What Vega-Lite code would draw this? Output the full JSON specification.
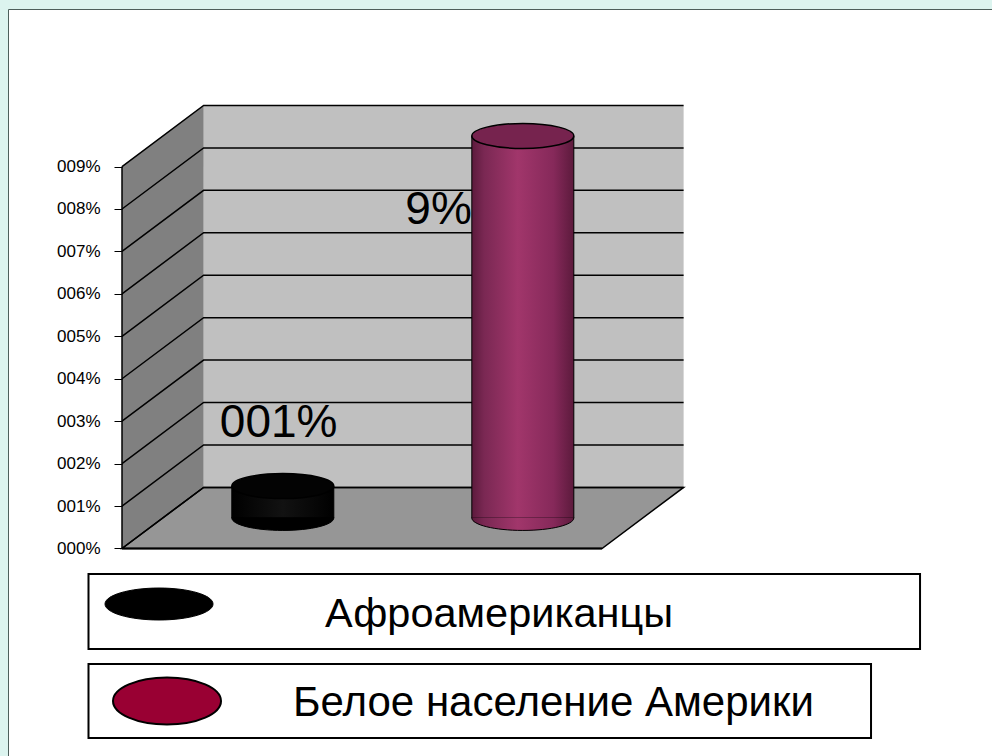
{
  "$schema": "https://vega.github.io/schema/vega-lite/v6.json",
  "width": 985,
  "height": 748,
  "autosize": {"type": "none"},
  "padding": {"left": 8, "top": 9, "right": 0, "bottom": 0},
  "background": "#dcf4ef",
  "config": {"font": "Liberation Sans", "view": {"fill": "white", "stroke": "#4d5f5b", "strokeWidth": 1}, "scale": {"continuousPadding": 0}},
  "datasets": {
    "series": [
      {"group": "Афроамериканцы", "rank": 1, "value": 0.75, "label": "001%"},
      {"group": "Белое население Америки", "rank": 2, "value": 9, "label": "9%"}
    ],
    "ticks": [{"tick": 0}, {"tick": 1}, {"tick": 2}, {"tick": 3}, {"tick": 4}, {"tick": 5}, {"tick": 6}, {"tick": 7}, {"tick": 8}, {"tick": 9}]
  },
  "data": {"name": "series"},
  "resolve": {"scale": {"y": "independent"}},
  "layer": [
    {
      "layer": [
        {
          "data": {"values": [{}]},
          "mark": {"type": "rect", "fill": "#c0c0c0"},
          "encoding": {
            "x": {"datum": 0.67, "type": "quantitative", "scale": {"domain": [-0.145, 3.959], "nice": false, "zero": false, "padding": 0}, "axis": null},
            "x2": {"datum": 2.67},
            "y": {"datum": 1.44, "type": "quantitative", "scale": {"domain": [-4.913, 12.712], "nice": false, "zero": false}, "axis": null},
            "y2": {"datum": 10.44}
          }
        },
        {
          "data": {"values": [{}]},
          "mark": {"type": "point", "shape": "M0,0L0,-382L81.6,-443.1L81.6,-61.1Z", "size": 4, "filled": true, "fill": "#808080", "strokeWidth": 0, "opacity": 1},
          "encoding": {
            "x": {"datum": 0.33, "type": "quantitative", "scale": {"domain": [-0.145, 3.959], "nice": false, "zero": false, "padding": 0}, "axis": null},
            "y": {"datum": 0, "type": "quantitative", "scale": {"domain": [-4.913, 12.712], "nice": false, "zero": false}, "axis": null}
          }
        },
        {
          "data": {"values": [{}]},
          "mark": {"type": "point", "shape": "M0,0L480,0L561.6,-61.1L81.6,-61.1Z", "size": 4, "filled": true, "fill": "#969696", "stroke": "black", "strokeWidth": 1.5, "opacity": 1},
          "encoding": {
            "x": {"datum": 0.33, "type": "quantitative", "scale": {"domain": [-0.145, 3.959], "nice": false, "zero": false, "padding": 0}, "axis": null},
            "y": {"datum": 0, "type": "quantitative", "scale": {"domain": [-4.913, 12.712], "nice": false, "zero": false}, "axis": null}
          }
        }
      ]
    },
    {
      "data": {"name": "ticks"},
      "mark": {"type": "point", "shape": "M0,0L81.6,-61.1L561.6,-61.1", "size": 4, "filled": false, "color": "black", "strokeWidth": 1.5, "opacity": 1},
      "encoding": {
        "x": {"datum": 0.33, "type": "quantitative", "scale": {"domain": [-0.145, 3.959], "nice": false, "zero": false, "padding": 0}, "axis": null},
        "y": {
          "field": "tick", "type": "quantitative",
          "scale": {"domain": [-4.913, 12.712], "nice": false, "zero": false},
          "axis": {
            "values": [0, 1, 2, 3, 4, 5, 6, 7, 8, 9],
            "labelExpr": "'00' + datum.value + '%'",
            "orient": "left",
            "offset": -114, "domain": false, "grid": false,
            "ticks": true, "tickSize": 8, "tickColor": "black", "tickWidth": 1,
            "labelFont": "Liberation Sans Narrow, Liberation Sans, Arial", "labelFontSize": 17, "labelColor": "black",
            "labelPadding": 14, "labelOverlap": false, "labelFlush": false, "title": null,
            "zindex": 1
          }
        }
      }
    },
    {
      "layer": [
        {
          "data": {"values": [{}]},
          "mark": {"type": "rule", "color": "black", "strokeWidth": 1.5},
          "encoding": {
            "x": {"datum": 0.33, "type": "quantitative", "scale": {"domain": [-0.145, 3.959], "nice": false, "zero": false, "padding": 0}, "axis": null},
            "y": {"datum": 0, "type": "quantitative", "scale": {"domain": [-4.913, 12.712], "nice": false, "zero": false}, "axis": null},
            "y2": {"datum": 9}
          }
        },
        {
          "data": {"values": [{}]},
          "mark": {"type": "rule", "color": "black", "strokeWidth": 2},
          "encoding": {
            "x": {"datum": 0.33, "type": "quantitative", "scale": {"domain": [-0.145, 3.959], "nice": false, "zero": false, "padding": 0}, "axis": null},
            "x2": {"datum": 2.33},
            "y": {"datum": 0, "type": "quantitative", "scale": {"domain": [-4.913, 12.712], "nice": false, "zero": false}, "axis": null}
          }
        },
        {
          "data": {"values": [{}]},
          "mark": {"type": "rect", "fill": "white", "stroke": "black", "strokeWidth": 2},
          "encoding": {
            "x": {"datum": 0.1904, "type": "quantitative", "scale": {"domain": [-0.145, 3.959], "nice": false, "zero": false, "padding": 0}, "axis": null},
            "x2": {"datum": 3.655},
            "y": {"datum": -0.601, "type": "quantitative", "scale": {"domain": [-4.913, 12.712], "nice": false, "zero": false}, "axis": null},
            "y2": {"datum": -2.368}
          }
        },
        {
          "data": {"values": [{}]},
          "mark": {"type": "rect", "fill": "white", "stroke": "black", "strokeWidth": 2},
          "encoding": {
            "x": {"datum": 0.1904, "type": "quantitative", "scale": {"domain": [-0.145, 3.959], "nice": false, "zero": false, "padding": 0}, "axis": null},
            "x2": {"datum": 3.4508},
            "y": {"datum": -2.721, "type": "quantitative", "scale": {"domain": [-4.913, 12.712], "nice": false, "zero": false}, "axis": null},
            "y2": {"datum": -4.465}
          }
        },
        {
          "transform": [{"filter": "datum.group == 'Афроамериканцы'"}],
          "mark": {"type": "point", "shape": "M-1,0C-1,-0.1635,-0.5523,-0.296,0,-0.296C0.5523,-0.296,1,-0.1635,1,0C1,0.1635,0.5523,0.296,0,0.296C-0.5523,0.296,-1,0.1635,-1,0Z", "size": 11664, "filled": true, "fill": "black", "stroke": "black", "strokeWidth": 1, "opacity": 1},
          "encoding": {
            "x": {"datum": 0.4842, "type": "quantitative", "scale": {"domain": [-0.145, 3.959], "nice": false, "zero": false, "padding": 0}, "axis": null},
            "y": {"datum": -1.308, "type": "quantitative", "scale": {"domain": [-4.913, 12.712], "nice": false, "zero": false}, "axis": null}
          }
        },
        {
          "transform": [{"filter": "datum.group == 'Белое население Америки'"}],
          "mark": {"type": "point", "shape": "M-1,0C-1,-0.2403,-0.5523,-0.435,0,-0.435C0.5523,-0.435,1,-0.2403,1,0C1,0.2403,0.5523,0.435,0,0.435C-0.5523,0.435,-1,0.2403,-1,0Z", "size": 11664, "filled": true, "fill": "#990033", "stroke": "black", "strokeWidth": 2, "opacity": 1},
          "encoding": {
            "x": {"datum": 0.5175, "type": "quantitative", "scale": {"domain": [-0.145, 3.959], "nice": false, "zero": false, "padding": 0}, "axis": null},
            "y": {"datum": -3.593, "type": "quantitative", "scale": {"domain": [-4.913, 12.712], "nice": false, "zero": false}, "axis": null}
          }
        },
        {
          "transform": [{"filter": "datum.group == 'Афроамериканцы'"}],
          "mark": {"type": "text", "align": "left", "baseline": "alphabetic", "fontSize": 41.5, "font": "Liberation Sans", "color": "black"},
          "encoding": {
            "x": {"datum": 1.1758, "type": "quantitative", "scale": {"domain": [-0.145, 3.959], "nice": false, "zero": false, "padding": 0}, "axis": null},
            "y": {"datum": -1.85, "type": "quantitative", "scale": {"domain": [-4.913, 12.712], "nice": false, "zero": false}, "axis": null},
            "text": {"field": "group"}
          }
        },
        {
          "transform": [{"filter": "datum.group == 'Белое население Америки'"}],
          "mark": {"type": "text", "align": "left", "baseline": "alphabetic", "fontSize": 42, "font": "Liberation Sans", "color": "black"},
          "encoding": {
            "x": {"datum": 1.0425, "type": "quantitative", "scale": {"domain": [-0.145, 3.959], "nice": false, "zero": false, "padding": 0}, "axis": null},
            "y": {"datum": -3.947, "type": "quantitative", "scale": {"domain": [-4.913, 12.712], "nice": false, "zero": false}, "axis": null},
            "text": {"field": "group"}
          }
        }
      ]
    },
    {
      "layer": [
        {
          "transform": [{"filter": "datum.group == 'Афроамериканцы'"}],
          "mark": {"type": "bar", "width": 102, "fill": {"gradient": "linear", "x1": 0, "y1": 0, "x2": 1, "y2": 0, "stops": [{"offset": 0, "color": "#000000"}, {"offset": 0.5, "color": "#121212"}, {"offset": 1, "color": "#000000"}]}, "stroke": "black", "strokeWidth": 1},
          "encoding": {
            "x": {"field": "rank", "type": "quantitative", "scale": {"domain": [-0.145, 3.959], "nice": false, "zero": false, "padding": 0}, "axis": null},
            "y": {"field": "value", "type": "quantitative", "scale": {"domain": [-5.633, 11.992], "nice": false, "zero": false, "padding": 0}, "axis": null},
            "y2": {"datum": 0}
          }
        },
        {
          "transform": [{"filter": "datum.group == 'Афроамериканцы'"}],
          "mark": {"type": "point", "shape": "M-1,-0.01L-1,0C-1,0.1353,-0.5523,0.245,0,0.245C0.5523,0.245,1,0.1353,1,0L1,-0.01", "size": 10404, "filled": true, "fill": "black", "stroke": "black", "strokeWidth": 1, "opacity": 1},
          "encoding": {
            "x": {"field": "rank", "type": "quantitative", "scale": {"domain": [-0.145, 3.959], "nice": false, "zero": false, "padding": 0}, "axis": null},
            "y": {"datum": 0, "type": "quantitative", "scale": {"domain": [-5.633, 11.992], "nice": false, "zero": false, "padding": 0}, "axis": null}
          }
        },
        {
          "transform": [{"filter": "datum.group == 'Афроамериканцы'"}],
          "mark": {"type": "point", "shape": "M-1,0C-1,-0.1353,-0.5523,-0.245,0,-0.245C0.5523,-0.245,1,-0.1353,1,0C1,0.1353,0.5523,0.245,0,0.245C-0.5523,0.245,-1,0.1353,-1,0Z", "size": 10404, "filled": true, "fill": "#030303", "stroke": "black", "strokeWidth": 1.5, "opacity": 1},
          "encoding": {
            "x": {"field": "rank", "type": "quantitative", "scale": {"domain": [-0.145, 3.959], "nice": false, "zero": false, "padding": 0}, "axis": null},
            "y": {"field": "value", "type": "quantitative", "scale": {"domain": [-5.633, 11.992], "nice": false, "zero": false, "padding": 0}, "axis": null}
          }
        },
        {
          "transform": [{"filter": "datum.group == 'Белое население Америки'"}],
          "mark": {"type": "bar", "width": 102, "fill": {"gradient": "linear", "x1": 0, "y1": 0, "x2": 1, "y2": 0, "stops": [{"offset": 0, "color": "#5c1a3c"}, {"offset": 0.12, "color": "#7a2853"}, {"offset": 0.45, "color": "#a1366b"}, {"offset": 0.8, "color": "#86295a"}, {"offset": 1, "color": "#5c1a3c"}]}, "stroke": "black", "strokeWidth": 1},
          "encoding": {
            "x": {"field": "rank", "type": "quantitative", "scale": {"domain": [-0.145, 3.959], "nice": false, "zero": false, "padding": 0}, "axis": null},
            "y": {"field": "value", "type": "quantitative", "scale": {"domain": [-5.633, 11.992], "nice": false, "zero": false, "padding": 0}, "axis": null},
            "y2": {"datum": 0}
          }
        },
        {
          "transform": [{"filter": "datum.group == 'Белое население Америки'"}],
          "mark": {"type": "point", "shape": "M-1,-0.01L-1,0C-1,0.1353,-0.5523,0.245,0,0.245C0.5523,0.245,1,0.1353,1,0L1,-0.01", "size": 10404, "filled": true, "fill": {"gradient": "linear", "x1": 0, "y1": 0, "x2": 1, "y2": 0, "stops": [{"offset": 0, "color": "#5c1a3c"}, {"offset": 0.12, "color": "#7a2853"}, {"offset": 0.45, "color": "#a1366b"}, {"offset": 0.8, "color": "#86295a"}, {"offset": 1, "color": "#5c1a3c"}]}, "stroke": "black", "strokeWidth": 1, "opacity": 1},
          "encoding": {
            "x": {"field": "rank", "type": "quantitative", "scale": {"domain": [-0.145, 3.959], "nice": false, "zero": false, "padding": 0}, "axis": null},
            "y": {"datum": 0, "type": "quantitative", "scale": {"domain": [-5.633, 11.992], "nice": false, "zero": false, "padding": 0}, "axis": null}
          }
        },
        {
          "transform": [{"filter": "datum.group == 'Белое население Америки'"}],
          "mark": {"type": "point", "shape": "M-1,0C-1,-0.1353,-0.5523,-0.245,0,-0.245C0.5523,-0.245,1,-0.1353,1,0C1,0.1353,0.5523,0.245,0,0.245C-0.5523,0.245,-1,0.1353,-1,0Z", "size": 10404, "filled": true, "fill": "#76234e", "stroke": "black", "strokeWidth": 1.5, "opacity": 1},
          "encoding": {
            "x": {"field": "rank", "type": "quantitative", "scale": {"domain": [-0.145, 3.959], "nice": false, "zero": false, "padding": 0}, "axis": null},
            "y": {"field": "value", "type": "quantitative", "scale": {"domain": [-5.633, 11.992], "nice": false, "zero": false, "padding": 0}, "axis": null}
          }
        },
        {
          "transform": [{"filter": "datum.group == 'Афроамериканцы'"}],
          "mark": {"type": "text", "align": "left", "baseline": "alphabetic", "fontSize": 46, "font": "Liberation Sans", "color": "black", "dx": -63, "dy": -49.5},
          "encoding": {
            "x": {"field": "rank", "type": "quantitative", "scale": {"domain": [-0.145, 3.959], "nice": false, "zero": false, "padding": 0}, "axis": null},
            "y": {"field": "value", "type": "quantitative", "scale": {"domain": [-5.633, 11.992], "nice": false, "zero": false, "padding": 0}, "axis": null},
            "text": {"field": "label"}
          }
        },
        {
          "transform": [{"filter": "datum.group == 'Белое население Америки'"}],
          "mark": {"type": "text", "align": "right", "baseline": "alphabetic", "fontSize": 46, "font": "Liberation Sans", "color": "black", "dx": -51, "dy": 88},
          "encoding": {
            "x": {"field": "rank", "type": "quantitative", "scale": {"domain": [-0.145, 3.959], "nice": false, "zero": false, "padding": 0}, "axis": null},
            "y": {"field": "value", "type": "quantitative", "scale": {"domain": [-5.633, 11.992], "nice": false, "zero": false, "padding": 0}, "axis": null},
            "text": {"field": "label"}
          }
        }
      ]
    }
  ]
}
